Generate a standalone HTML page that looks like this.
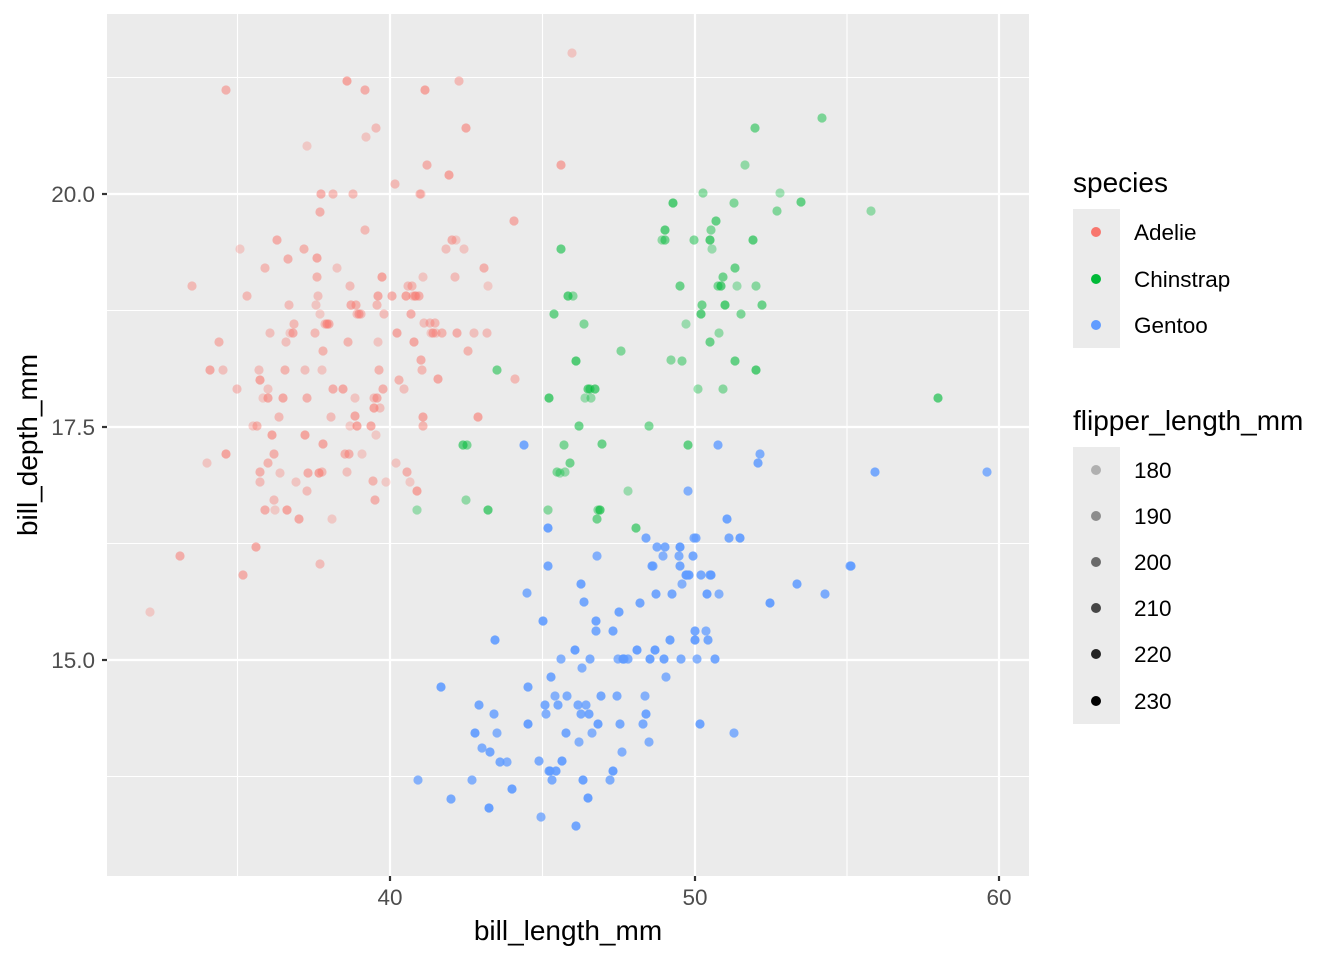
<!DOCTYPE html>
<html><head><meta charset="utf-8"><style>
html,body{margin:0;padding:0;background:#fff;}
svg text{font-family:"Liberation Sans",Arial,sans-serif;}
</style></head><body>
<svg id="s" width="1344" height="960" viewBox="0 0 1344 960" xmlns="http://www.w3.org/2000/svg">
<rect width="1344" height="960" fill="#fff"/>
<rect x="107" y="14" width="922" height="862" fill="#EBEBEB"/>
<g stroke="#fff" stroke-width="1.1">
<line x1="237.5" y1="14" x2="237.5" y2="876"/><line x1="542.5" y1="14" x2="542.5" y2="876"/><line x1="847" y1="14" x2="847" y2="876"/>
<line x1="107" y1="77.5" x2="1029" y2="77.5"/><line x1="107" y1="310.5" x2="1029" y2="310.5"/><line x1="107" y1="543.5" x2="1029" y2="543.5"/><line x1="107" y1="776.5" x2="1029" y2="776.5"/>
</g>
<g stroke="#fff" stroke-width="2.2">
<line x1="390" y1="14" x2="390" y2="876"/><line x1="695" y1="14" x2="695" y2="876"/><line x1="999" y1="14" x2="999" y2="876"/>
<line x1="107" y1="194" x2="1029" y2="194"/><line x1="107" y1="427" x2="1029" y2="427"/><line x1="107" y1="660" x2="1029" y2="660"/>
</g>
<g id="pts"></g>
<g stroke="#333" stroke-width="2.2">
<line x1="390" y1="876" x2="390" y2="881"/><line x1="695" y1="876" x2="695" y2="881"/><line x1="999" y1="876" x2="999" y2="881"/>
<line x1="102" y1="194" x2="107" y2="194"/><line x1="102" y1="427" x2="107" y2="427"/><line x1="102" y1="660" x2="107" y2="660"/>
</g>
<g fill="#4D4D4D" font-size="22.5">
<text x="390" y="905" text-anchor="middle">40</text><text x="695" y="905" text-anchor="middle">50</text><text x="999" y="905" text-anchor="middle">60</text>
<text x="95" y="202" text-anchor="end">20.0</text><text x="95" y="435" text-anchor="end">17.5</text><text x="95" y="668" text-anchor="end">15.0</text>
</g>
<text x="568" y="940" text-anchor="middle" font-size="28" fill="#000">bill_length_mm</text>
<text transform="translate(37,445) rotate(-90)" text-anchor="middle" font-size="28" fill="#000">bill_depth_mm</text>
<text x="1073" y="192" font-size="28">species</text>
<rect x="1073" y="209" width="47" height="139" fill="#EBEBEB"/>
<circle cx="1096" cy="232" r="5" fill="#F8766D"/><circle cx="1096" cy="279" r="5" fill="#00BA38"/><circle cx="1096" cy="325" r="5" fill="#619CFF"/>
<g font-size="22.5"><text x="1134" y="240">Adelie</text><text x="1134" y="287">Chinstrap</text><text x="1134" y="333">Gentoo</text></g>
<text x="1073" y="430" font-size="28">flipper_length_mm</text>
<rect x="1073" y="447" width="47" height="277" fill="#EBEBEB"/>
<g><circle cx="1096" cy="470" r="5" fill="#000" fill-opacity="0.25"/><circle cx="1096" cy="516" r="5" fill="#000" fill-opacity="0.4"/><circle cx="1096" cy="562" r="5" fill="#000" fill-opacity="0.55"/><circle cx="1096" cy="608" r="5" fill="#000" fill-opacity="0.7"/><circle cx="1096" cy="654" r="5" fill="#000" fill-opacity="0.85"/><circle cx="1096" cy="701" r="5" fill="#000"/></g>
<g font-size="22.5"><text x="1134" y="478">180</text><text x="1134" y="524">190</text><text x="1134" y="570">200</text><text x="1134" y="616">210</text><text x="1134" y="662">220</text><text x="1134" y="709">230</text></g>
</svg>
<script>
var A=[[150,612],[180,556],[192,286],[207,463],[210,370],[219,342],[223,370],[226,454],[226,90],[237,389],[240,249],[243,575],[247,296],[253,426],[256,547],[257,426],[259,370],[260,380],[260,472],[260,482],[263,398],[265,510],[265,268],[268,389],[268,398],[268,463],[270,333],[272,435],[274,454],[274,500],[275,510],[277,240],[279,417],[280,473],[283,398],[285,370],[286,342],[287,510],[288,259],[289,305],[290,333],[293,333],[294,324],[296,482],[299,519],[304,249],[305,370],[305,435],[307,398],[307,491],[307,146],[308,473],[315,333],[316,305],[317,258],[317,277],[318,296],[319,473],[320,212],[320,564],[320,314],[321,194],[322,472],[322,370],[323,444],[323,351],[325,324],[327,324],[329,324],[331,417],[332,519],[333,389],[333,194],[337,268],[343,389],[345,454],[347,472],[347,81],[349,454],[350,286],[350,426],[351,305],[353,194],[355,398],[355,416],[356,305],[357,314],[357,426],[359,314],[361,314],[362,454],[365,90],[365,230],[366,137],[371,426],[373,481],[374,398],[374,408],[375,500],[376,128],[376,435],[377,398],[377,305],[378,342],[378,296],[379,370],[380,408],[382,277],[383,389],[384,314],[386,482],[392,296],[395,184],[396,463],[397,333],[399,380],[404,389],[406,296],[407,472],[408,286],[410,482],[411,314],[412,286],[413,296],[414,342],[415,296],[416,296],[417,491],[419,296],[420,194],[421,194],[421,360],[422,370],[423,277],[423,417],[423,426],[424,323],[425,90],[427,165],[430,323],[431,333],[433,333],[435,323],[436,333],[438,379],[442,333],[446,249],[449,175],[452,240],[455,277],[456,240],[457,333],[459,81],[464,249],[466,128],[468,351],[474,333],[478,417],[484,268],[487,333],[488,286],[514,221],[515,379],[572,53],[561,165],[348,342]];
var C=[[417,510],[463,445],[467,445],[466,500],[488,510],[497,370],[548,510],[549,398],[554,314],[557,472],[560,473],[561,249],[564,445],[565,472],[568,296],[570,463],[573,296],[576,361],[579,426],[584,324],[585,398],[588,389],[590,389],[591,398],[595,389],[597,519],[598,510],[600,510],[602,444],[621,351],[628,491],[636,528],[649,426],[662,240],[665,230],[665,240],[671,360],[673,203],[680,286],[682,361],[686,324],[688,445],[694,240],[698,389],[701,314],[702,305],[703,193],[710,240],[710,342],[711,230],[712,249],[716,221],[718,286],[719,333],[721,286],[723,277],[723,389],[725,305],[735,268],[734,203],[737,286],[735,361],[741,314],[745,165],[753,240],[755,128],[756,286],[756,370],[762,305],[777,211],[780,193],[801,202],[822,118],[871,211],[938,398]];
var G=[[418,780],[441,687],[451,799],[472,780],[475,733],[479,705],[482,748],[489,808],[490,752],[494,714],[497,733],[495,640],[500,762],[507,762],[512,789],[524,445],[527,593],[528,724],[528,687],[539,761],[541,817],[543,621],[545,705],[546,714],[548,528],[548,566],[549,771],[550,771],[551,677],[552,780],[555,696],[556,771],[558,705],[561,659],[562,761],[566,733],[567,696],[575,650],[576,826],[578,705],[579,742],[581,584],[581,714],[582,668],[583,780],[584,602],[586,705],[588,798],[589,714],[590,659],[592,733],[596,621],[596,631],[597,556],[598,724],[601,696],[610,780],[613,771],[613,631],[617,696],[618,659],[619,612],[620,724],[622,752],[623,659],[624,659],[628,659],[637,650],[640,603],[643,724],[645,696],[646,714],[646,538],[649,742],[650,659],[652,566],[653,566],[655,650],[656,594],[657,547],[663,556],[664,659],[665,547],[666,677],[670,640],[672,594],[679,556],[680,547],[680,566],[681,659],[682,584],[686,575],[687,575],[688,491],[689,575],[693,556],[694,538],[695,640],[695,631],[696,538],[697,659],[700,724],[701,575],[706,631],[707,594],[708,640],[710,575],[711,575],[715,659],[718,445],[719,594],[727,519],[729,538],[734,733],[740,538],[758,463],[760,454],[770,603],[797,584],[825,594],[850,566],[851,566],[875,472],[987,472]];
var g=document.getElementById('pts'),h='';
function add(a,col,base,vr){for(var i=0;i<a.length;i++){var o=base+((i*37)%10-4.5)/4.5*vr;h+='<circle cx="'+a[i][0]+'" cy="'+a[i][1]+'" r="4.6" fill="'+col+'" fill-opacity="'+o.toFixed(2)+'"/>';}}
add(A,'#F8766D',0.45,0.15);add(C,'#00BA38',0.5,0.15);add(G,'#619CFF',0.85,0.1);
g.innerHTML=h;
</script>
</body></html>
